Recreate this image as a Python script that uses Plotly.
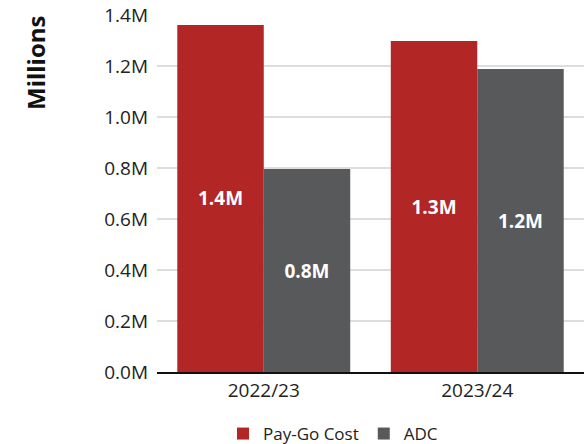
import plotly.graph_objects as go

categories = ["2022/23", "2023/24"]
paygo = [1361000, 1298000]
adc = [796000, 1188000]
paygo_labels = ["1.4M", "1.3M"]
adc_labels = ["0.8M", "1.2M"]
tick_vals = [0, 200000, 400000, 600000, 800000, 1000000, 1200000, 1400000]
tick_text = ["0.0M", "0.2M", "0.4M", "0.6M", "0.8M", "1.0M", "1.2M", "1.4M"]

FONT = "Open Sans"

fig = go.Figure()
fig.add_trace(go.Bar(
    x=categories, y=paygo, name="Pay-Go Cost", marker_color="#B22626",
    marker_line_width=0, text=paygo_labels, textposition="inside",
    insidetextanchor="middle",
    textfont=dict(color="white", size=19, family=FONT, weight="bold"),
))
fig.add_trace(go.Bar(
    x=categories, y=adc, name="ADC", marker_color="#58595B",
    marker_line_width=0, text=adc_labels, textposition="inside",
    insidetextanchor="middle",
    textfont=dict(color="white", size=19, family=FONT, weight="bold"),
))

fig.update_layout(
    width=587, height=444,
    margin=dict(l=157, r=3, t=15, b=72, autoexpand=False),
    paper_bgcolor="white", plot_bgcolor="white",
    barmode="group", bargap=0.19, bargroupgap=0,
    font=dict(family=FONT, color="#222222", size=19),
    showlegend=True,
    legend=dict(orientation="h", x=(223 - 157) / 427, xanchor="left",
                yref="container", y=10 / 444, yanchor="middle",
                font=dict(size=17, color="#222222"), itemwidth=30,
                traceorder="normal"),
    uniformtext=dict(minsize=10, mode="show"),
)
fig.update_yaxes(
    range=[0, 1400000], tickvals=tick_vals, ticktext=tick_text,
    showgrid=True, gridcolor="#dddddd", gridwidth=2,
    zeroline=False, showline=False, ticks="", ticklabelstandoff=8,
    tickfont=dict(size=19, color="#222222"),
)
fig.update_xaxes(
    showline=True, linecolor="#111111", linewidth=2, ticks="",
    tickfont=dict(size=19, color="#222222"),
)
fig.add_annotation(
    text="<b>Millions</b>", textangle=-90, xref="paper", yref="paper",
    x=(36 - 157) / 427, y=(372 - 63) / 357, xanchor="center", yanchor="middle",
    showarrow=False, font=dict(size=24, color="#111111", family=FONT),
)

fig.write_html("out.html")
